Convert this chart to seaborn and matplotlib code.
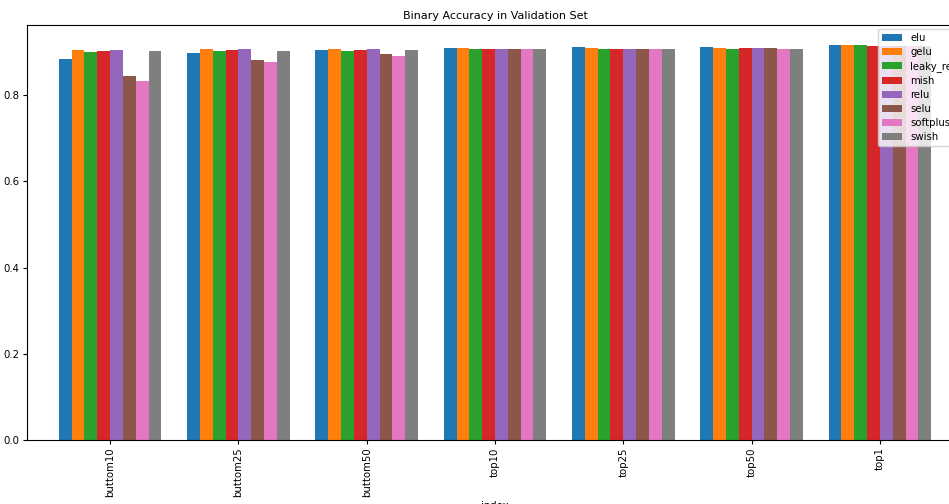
import pandas as pd
import seaborn as sns
import matplotlib.pyplot as plt

# カテゴリと系列
groups = ["buttom10", "buttom25", "buttom50", "top10", "top25", "top50", "top1"]
activations = ["elu", "gelu", "leaky_relu", "mish", "relu", "selu", "softplus", "swish"]

elu = [0.885, 0.899, 0.905, 0.910, 0.911, 0.911, 0.917]
gelu = [0.906, 0.907, 0.908, 0.910, 0.910, 0.910, 0.917]
leaky_relu = [0.900, 0.902, 0.903, 0.907, 0.907, 0.908, 0.917]
mish = [0.902, 0.906, 0.906, 0.908, 0.908, 0.909, 0.915]
relu = [0.906, 0.907, 0.907, 0.908, 0.908, 0.909, 0.915]
selu = [0.844, 0.882, 0.895, 0.908, 0.908, 0.909, 0.915]
softplus = [0.832, 0.876, 0.892, 0.908, 0.908, 0.908, 0.915]
swish = [0.902, 0.903, 0.905, 0.907, 0.907, 0.908, 0.914]

series = [elu, gelu, leaky_relu, mish, relu, selu, softplus, swish]
rows = []
for name, vals in zip(activations, series):
    for g, v in zip(groups, vals):
        rows.append({"index": g, "activation": name, "accuracy": v})
df = pd.DataFrame(rows)

# 元画像は縮小されたスクリーンショットなので全体を約0.73倍に
plt.rcParams["font.size"] = 7.3
plt.rcParams["xtick.major.size"] = 2.6
plt.rcParams["ytick.major.size"] = 2.6
plt.rcParams["xtick.major.pad"] = 2.6
plt.rcParams["ytick.major.pad"] = 2.6
plt.rcParams["axes.labelpad"] = 2.9
plt.rcParams["axes.titlepad"] = 4.4

fig = plt.figure(figsize=(9.49, 5.04), dpi=100)
# 右端は切れているので、軸を図の外まで伸ばす
ax = fig.add_axes([27 / 949, 64 / 504, 936 / 949, 415 / 504])

sns.barplot(
    data=df,
    x="index",
    y="accuracy",
    hue="activation",
    order=groups,
    hue_order=activations,
    palette="tab10",
    width=0.8,
    linewidth=0,
    saturation=1,
    ax=ax,
)

ax.set_title("Binary Accuracy in Validation Set", fontsize=8)
ax.set_xlabel("index", fontsize=7.3)
ax.set_ylabel("")
ax.set_xlim(-0.647, len(groups) - 1 + 0.647)
ax.set_ylim(0, df["accuracy"].max() * 1.05)
ax.set_yticks([0.0, 0.2, 0.4, 0.6, 0.8])
ax.tick_params(axis="x", labelrotation=90)

ax.legend(
    loc="upper left",
    bbox_to_anchor=(878 / 949, 1 - 29 / 504),
    bbox_transform=fig.transFigure,
    borderaxespad=0,
    labelspacing=0.4,
    fontsize=7.3,
    title=None,
)

plt.savefig("out.png", dpi=100)
plt.close()
